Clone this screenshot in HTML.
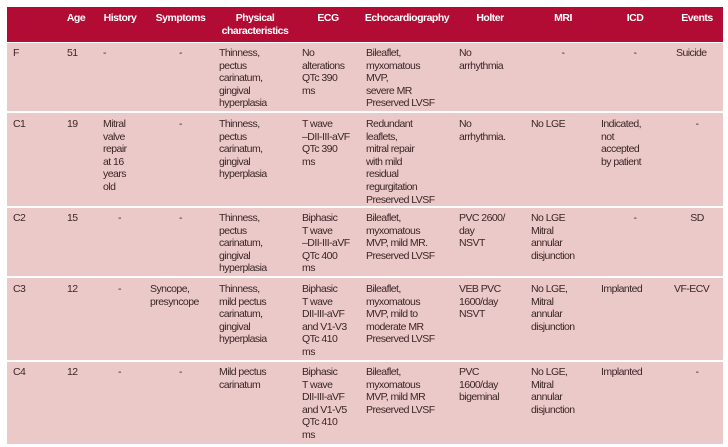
<!DOCTYPE html>
<html><head><meta charset="utf-8"><style>
body{margin:0;width:728px;height:447px;background:#fff;position:relative;overflow:hidden;font-family:"Liberation Sans",sans-serif;}
.bg{position:absolute;left:7px;width:716px;}
.h{background:#b20c35;top:7px;height:35px;}
.r{background:#ecc9c9;}
.c{position:absolute;font-size:10.5px;line-height:12.6px;color:#3a2626;letter-spacing:-0.55px;white-space:nowrap;}
.hd{position:absolute;font-size:10.5px;line-height:13px;color:#fff;font-weight:bold;text-align:center;letter-spacing:-0.5px;top:12px;white-space:nowrap;}
.ctr{text-align:center;}
</style></head><body>
<div class="bg h"></div>
<div class="bg r" style="top:43px;height:68px"></div>
<div class="bg r" style="top:113px;height:93px"></div>
<div class="bg r" style="top:208px;height:68px"></div>
<div class="bg r" style="top:278px;height:82px"></div>
<div class="bg r" style="top:362px;height:82px"></div>

<div class="hd" style="left:60px;width:32px">Age</div>
<div class="hd" style="left:95px;width:50px">History</div>
<div class="hd" style="left:148px;width:65px">Symptoms</div>
<div class="hd" style="left:215px;width:80px">Physical<br>characteristics</div>
<div class="hd" style="left:298px;width:60px">ECG</div>
<div class="hd" style="left:362px;width:90px">Echocardiography</div>
<div class="hd" style="left:455px;width:70px">Holter</div>
<div class="hd" style="left:528px;width:70px">MRI</div>
<div class="hd" style="left:600px;width:70px">ICD</div>
<div class="hd" style="left:672px;width:50px">Events</div>

<!-- F -->
<div class="c" style="left:13px;top:47px">F</div>
<div class="c" style="left:67px;top:47px">51</div>
<div class="c" style="left:103px;top:47px">-</div>
<div class="c ctr" style="left:148px;top:47px;width:65px">-</div>
<div class="c" style="left:219px;top:47px">Thinness,<br>pectus<br>carinatum,<br>gingival<br>hyperplasia</div>
<div class="c" style="left:302px;top:47px">No<br>alterations<br>QTc 390<br>ms</div>
<div class="c" style="left:366px;top:47px">Bileaflet,<br>myxomatous<br>MVP,<br>severe MR<br>Preserved LVSF</div>
<div class="c" style="left:459px;top:47px">No<br>arrhythmia</div>
<div class="c ctr" style="left:528px;top:47px;width:70px">-</div>
<div class="c ctr" style="left:600px;top:47px;width:70px">-</div>
<div class="c" style="left:676px;top:47px">Suicide</div>

<!-- C1 -->
<div class="c" style="left:13px;top:118px">C1</div>
<div class="c" style="left:67px;top:118px">19</div>
<div class="c" style="left:103px;top:118px">Mitral<br>valve<br>repair<br>at 16<br>years<br>old</div>
<div class="c ctr" style="left:148px;top:118px;width:65px">-</div>
<div class="c" style="left:219px;top:118px">Thinness,<br>pectus<br>carinatum,<br>gingival<br>hyperplasia</div>
<div class="c" style="left:302px;top:118px">T wave<br>–DII-III-aVF<br>QTc 390<br>ms</div>
<div class="c" style="left:366px;top:118px">Redundant<br>leaflets,<br>mitral repair<br>with mild<br>residual<br>regurgitation<br>Preserved LVSF</div>
<div class="c" style="left:459px;top:118px">No<br>arrhythmia.</div>
<div class="c" style="left:531px;top:118px">No LGE</div>
<div class="c" style="left:601px;top:118px">Indicated,<br>not<br>accepted<br>by patient</div>
<div class="c ctr" style="left:672px;top:118px;width:50px">-</div>

<!-- C2 -->
<div class="c" style="left:13px;top:212px">C2</div>
<div class="c" style="left:67px;top:212px">15</div>
<div class="c" style="left:118px;top:212px">-</div>
<div class="c ctr" style="left:148px;top:212px;width:65px">-</div>
<div class="c" style="left:219px;top:212px">Thinness,<br>pectus<br>carinatum,<br>gingival<br>hyperplasia</div>
<div class="c" style="left:302px;top:212px">Biphasic<br>T wave<br>–DII-III-aVF<br>QTc 400<br>ms</div>
<div class="c" style="left:366px;top:212px">Bileaflet,<br>myxomatous<br>MVP, mild MR.<br>Preserved LVSF</div>
<div class="c" style="left:459px;top:212px">PVC 2600/<br>day<br>NSVT</div>
<div class="c" style="left:531px;top:212px">No LGE<br>Mitral<br>annular<br>disjunction</div>
<div class="c ctr" style="left:600px;top:212px;width:70px">-</div>
<div class="c ctr" style="left:672px;top:212px;width:50px">SD</div>

<!-- C3 -->
<div class="c" style="left:13px;top:283px">C3</div>
<div class="c" style="left:67px;top:283px">12</div>
<div class="c" style="left:118px;top:283px">-</div>
<div class="c" style="left:150px;top:283px">Syncope,<br>presyncope</div>
<div class="c" style="left:219px;top:283px">Thinness,<br>mild pectus<br>carinatum,<br>gingival<br>hyperplasia</div>
<div class="c" style="left:302px;top:283px">Biphasic<br>T wave<br>DII-III-aVF<br>and V1-V3<br>QTc 410<br>ms</div>
<div class="c" style="left:366px;top:283px">Bileaflet,<br>myxomatous<br>MVP, mild to<br>moderate MR<br>Preserved LVSF</div>
<div class="c" style="left:459px;top:283px">VEB PVC<br>1600/day<br>NSVT</div>
<div class="c" style="left:531px;top:283px">No LGE,<br>Mitral<br>annular<br>disjunction</div>
<div class="c" style="left:601px;top:283px">Implanted</div>
<div class="c" style="left:674px;top:283px">VF-ECV</div>

<!-- C4 -->
<div class="c" style="left:13px;top:366px">C4</div>
<div class="c" style="left:67px;top:366px">12</div>
<div class="c" style="left:118px;top:366px">-</div>
<div class="c ctr" style="left:148px;top:366px;width:65px">-</div>
<div class="c" style="left:219px;top:366px">Mild pectus<br>carinatum</div>
<div class="c" style="left:302px;top:366px">Biphasic<br>T wave<br>DII-III-aVF<br>and V1-V5<br>QTc 410<br>ms</div>
<div class="c" style="left:366px;top:366px">Bileaflet,<br>myxomatous<br>MVP, mild MR<br>Preserved LVSF</div>
<div class="c" style="left:459px;top:366px">PVC<br>1600/day<br>bigeminal</div>
<div class="c" style="left:531px;top:366px">No LGE,<br>Mitral<br>annular<br>disjunction</div>
<div class="c" style="left:601px;top:366px">Implanted</div>
<div class="c ctr" style="left:672px;top:366px;width:50px">-</div>
</body></html>
